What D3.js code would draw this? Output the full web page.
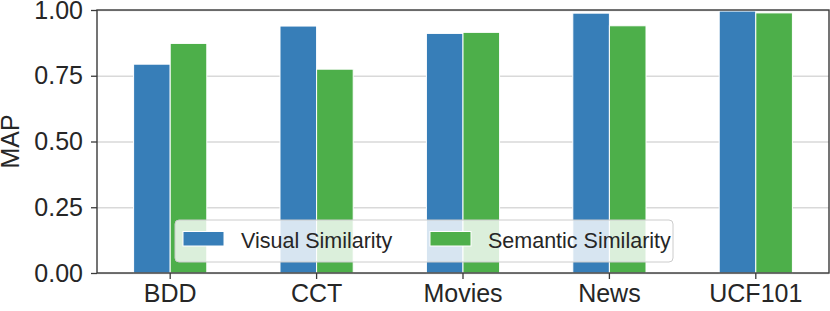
<html>
<meta charset="utf-8">

<head>
    <script src="https://d3js.org/d3.v7.min.js"></script>
    <style>
        body {
            margin: 0;
            background: white;
        }

        * {
            font-family: "Liberation Sans", Arial, sans-serif
        }

        .tick text {
            fill: #262626;
        }
    </style>
</head>

<svg id="barchart" width="830" height="311"></svg>

<script>
    // data
    const datasets = ["BDD", "CCT", "Movies", "News", "UCF101"];
    const seriesNames = ["Visual Similarity", "Semantic Similarity"];
    const visualMAP = [0.794, 0.939, 0.911, 0.988, 0.996];
    const semanticMAP = [0.873, 0.775, 0.915, 0.940, 0.989];
    const yTicks = [0.00, 0.25, 0.50, 0.75, 1.00];
    const colors = ["#377eb8", "#4daf4a"];

    const svg = d3.select("svg#barchart");
    const margin = { top: 10, right: 1, bottom: 38, left: 97 };
    const width = +svg.attr("width");
    const height = +svg.attr("height");
    const chartWidth = width - margin.left - margin.right;
    const chartHeight = height - margin.top - margin.bottom;

    const rows = datasets.map((d, i) => ({ name: d, values: [visualMAP[i], semanticMAP[i]] }));

    const xScale = d3.scaleBand().domain(datasets).range([0, chartWidth]).padding(0);
    const subScale = d3.scaleBand().domain(seriesNames)
        .range([xScale.bandwidth() * 0.25, xScale.bandwidth() * 0.75]);
    const yScale = d3.scaleLinear().domain([0, 1]).range([chartHeight, 0]);

    const chart = svg.append("g")
        .attr("transform", `translate(${margin.left},${margin.top})`);

    // gridlines (behind bars)
    chart.append("g")
        .attr("class", "gridlines")
        .call(d3.axisLeft(yScale).tickValues(yTicks).tickSize(-chartWidth).tickFormat(""))
        .call(g => g.select(".domain").remove())
        .call(g => g.selectAll("line").attr("stroke", "#d9d9d9").attr("stroke-width", 1.4));

    // bars
    const groups = chart.selectAll("g.group").data(rows)
        .join("g")
        .attr("class", "group")
        .attr("transform", d => `translate(${xScale(d.name)},0)`);

    groups.selectAll("rect")
        .data(d => d.values.map((v, j) => ({ series: seriesNames[j], value: v, j: j })))
        .join("rect")
        .attr("x", d => subScale(d.series))
        .attr("width", subScale.bandwidth())
        .attr("y", d => yScale(d.value))
        .attr("height", d => chartHeight - yScale(d.value))
        .attr("fill", d => colors[d.j])
        .attr("stroke", "white")
        .attr("stroke-width", 1);

    // axes
    const leftAxis = d3.axisLeft(yScale).tickValues(yTicks).tickFormat(d3.format(".2f")).tickSize(6).tickPadding(8);
    const bottomAxis = d3.axisBottom(xScale).tickSize(6).tickPadding(5);

    chart.append("g")
        .call(leftAxis)
        .call(g => g.selectAll("text").style("font-size", "25px"))
        .call(g => g.selectAll("line").attr("stroke", "#3a3a3a").attr("stroke-width", 1.3))
        .call(g => g.select(".domain").remove());

    chart.append("g")
        .attr("transform", `translate(0,${chartHeight})`)
        .call(bottomAxis)
        .call(g => g.selectAll("text").style("font-size", "25px"))
        .call(g => g.selectAll("line").attr("stroke", "#3a3a3a").attr("stroke-width", 1.3))
        .call(g => g.select(".domain").remove());

    // frame
    chart.append("rect")
        .attr("x", 0).attr("y", 0)
        .attr("width", chartWidth).attr("height", chartHeight)
        .attr("fill", "none")
        .attr("stroke", "#3a3a3a")
        .attr("stroke-width", 1.4);

    // y label
    svg.append("text").text("MAP")
        .attr("transform", `translate(19,${margin.top + chartHeight / 2}) rotate(-90)`)
        .attr("text-anchor", "middle")
        .style("font-size", "25px")
        .style("fill", "#262626");

    // legend
    const legend = chart.append("g").attr("transform", `translate(${175 - margin.left},${220 - margin.top})`);
    legend.append("rect")
        .attr("width", 498).attr("height", 42)
        .attr("rx", 4)
        .attr("fill", "white").attr("fill-opacity", 0.8)
        .attr("stroke", "#cccccc").attr("stroke-width", 1);

    const items = legend.selectAll("g.item").data(seriesNames)
        .join("g")
        .attr("class", "item")
        .attr("transform", (d, i) => `translate(${[8, 255][i]},0)`);

    items.append("rect")
        .attr("y", 11.5).attr("width", 41).attr("height", 14.5)
        .attr("fill", (d, i) => colors[i])
        .attr("stroke", "white").attr("stroke-width", 1);

    items.append("text")
        .attr("x", 58).attr("y", 28)
        .text(d => d)
        .style("font-size", "21.5px")
        .style("fill", "#262626");
</script>

</html>
